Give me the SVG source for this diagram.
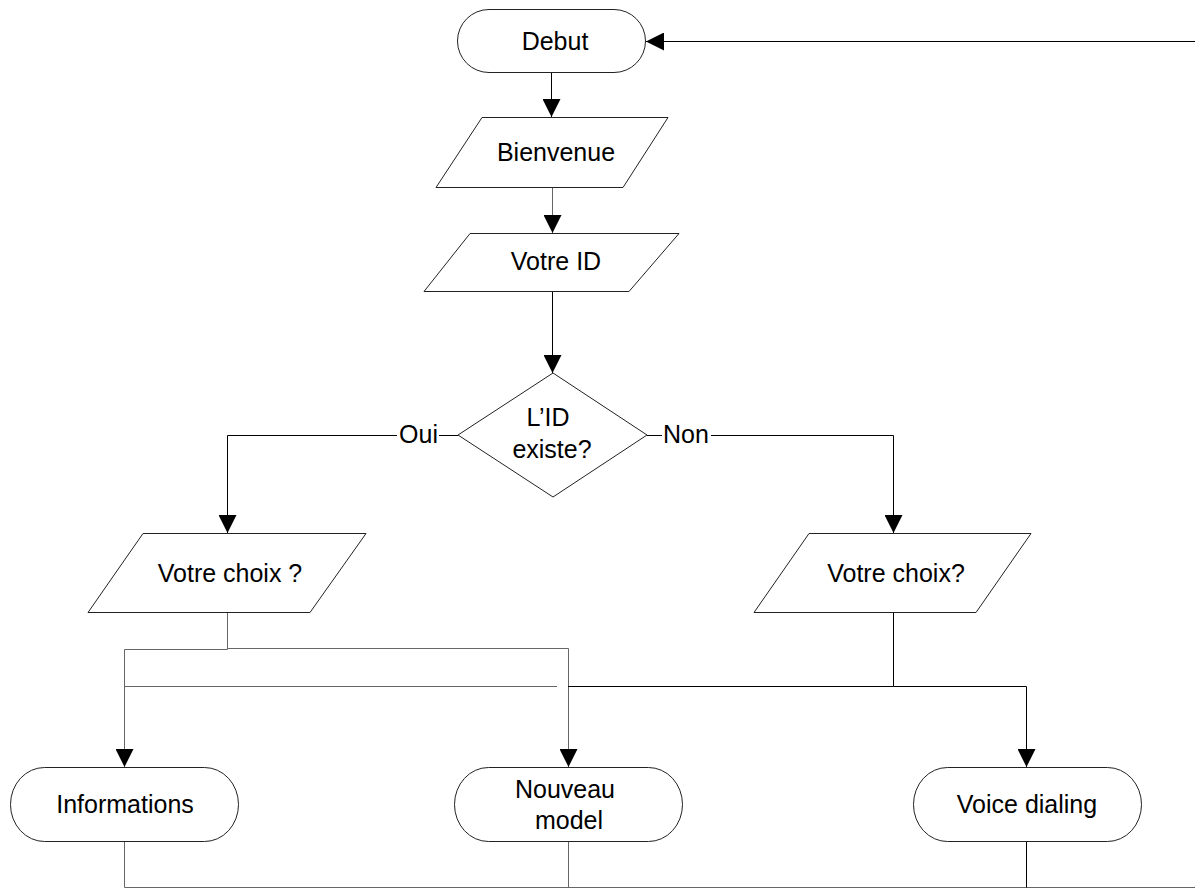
<svg xmlns="http://www.w3.org/2000/svg" width="1195" height="888" viewBox="0 0 1195 888">
<style>
.shape{fill:#fff;stroke:#222;stroke-width:1}
.conn{fill:none;stroke:#000;stroke-width:1}
.grey{stroke:#666}
text{font-family:"Liberation Sans",Arial,sans-serif;font-size:25px;fill:#000}
.c{text-anchor:middle}
</style>
<defs>
<marker id="arr" markerUnits="userSpaceOnUse" markerWidth="18" markerHeight="18" refX="18" refY="9" orient="auto">
<path d="M0,0 L18,9 L0,18 Z" fill="#000"/>
</marker>
</defs>
<rect width="1195" height="888" fill="#fff"/>
<g id="connectors">
<path class="conn" d="M1195,41.5 H646" marker-end="url(#arr)"/>
<path class="conn" d="M551.5,72 V117" marker-end="url(#arr)"/>
<path class="conn grey" d="M552.5,187 V233" marker-end="url(#arr)"/>
<path class="conn" d="M552.5,291 V373" marker-end="url(#arr)"/>
<path class="conn" d="M458,435.5 H439"/>
<path class="conn" d="M397,435.5 H227.5 V533" marker-end="url(#arr)"/>
<path class="conn" d="M647,435.5 H662"/>
<path class="conn" d="M711,435.5 H893.5 V533" marker-end="url(#arr)"/>
<path class="conn grey" d="M227.5,612 V649.5 H124.5 V767" marker-end="url(#arr)"/>
<path class="conn grey" d="M227.5,648.5 H568.5 V767" marker-end="url(#arr)"/>
<path class="conn grey" d="M124.5,686.5 H557"/>
<path class="conn" d="M893.5,612 V686.5 H1026.5 V767" marker-end="url(#arr)"/>
<path class="conn" d="M893.5,686.5 H568"/>
<path class="conn grey" d="M124.5,841 V887.5 H1195"/>
<path class="conn grey" d="M568.5,841 V887.5"/>
<path class="conn" d="M1026.5,841 V887.5"/>
</g>
<g id="debut">
<rect class="shape" x="457.5" y="9.5" width="188" height="63" rx="31.5" ry="31.5"/>
<text class="c" x="555" y="50">Debut</text>
</g>
<g id="bienvenue">
<polygon class="shape" points="482,117.5 668,117.5 623,187.5 436,187.5"/>
<text class="c" x="556" y="161">Bienvenue</text>
</g>
<g id="votre-id">
<polygon class="shape" points="470,233.5 679,233.5 629,291.5 424,291.5"/>
<text class="c" x="556" y="270">Votre ID</text>
</g>
<g id="decision">
<polygon class="shape" points="553,373 647,435 553,497 458,435"/>
<text class="c" x="548" y="426">L’ID</text>
<text class="c" x="552" y="458">existe?</text>
</g>
<g id="label-oui"><text x="438" y="443" text-anchor="end">Oui</text></g>
<g id="label-non"><text x="663" y="443">Non</text></g>
<g id="choix-gauche">
<polygon class="shape" points="143,533.5 366,533.5 310,612.5 88,612.5"/>
<text class="c" x="230" y="582">Votre choix ?</text>
</g>
<g id="choix-droite">
<polygon class="shape" points="809,533.5 1031,533.5 976,612.5 754,612.5"/>
<text class="c" x="896" y="582">Votre choix?</text>
</g>
<g id="informations">
<rect class="shape" x="10.5" y="767.5" width="228" height="74" rx="34" ry="37"/>
<text class="c" x="125" y="813">Informations</text>
</g>
<g id="nouveau-model">
<rect class="shape" x="454.5" y="767.5" width="228" height="74" rx="34" ry="37"/>
<text class="c" x="565" y="798">Nouveau</text>
<text class="c" x="569" y="829">model</text>
</g>
<g id="voice-dialing">
<rect class="shape" x="913.5" y="767.5" width="228" height="74" rx="34" ry="37"/>
<text class="c" x="1027" y="813">Voice dialing</text>
</g>
</svg>
